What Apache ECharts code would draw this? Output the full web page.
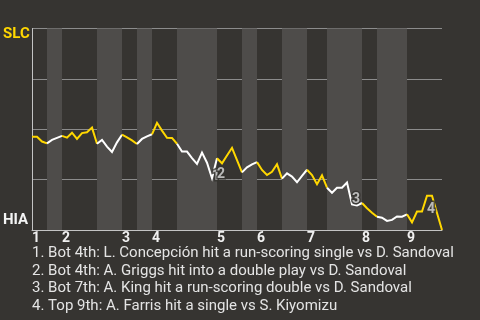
<!DOCTYPE html>
<html>
<head>
<meta charset="utf-8">
<script src="https://cdn.jsdelivr.net/npm/echarts@6/dist/echarts.min.js"></script>
<style>html,body{margin:0;padding:0;background:#363431;}#c{width:480px;height:320px;}</style>
</head>
<body>
<div id="c"></div>
<script>
// SLC win probability after each event (0 = HIA wins, 1 = SLC wins)
const winProb = [
  0.463, 0.463, 0.439, 0.430, 0.447, 0.457, 0.467, 0.458, 0.483, 0.452,
  0.481, 0.485, 0.508, 0.428, 0.447, 0.414, 0.387, 0.435, 0.473, 0.460,
  0.445, 0.427, 0.452, 0.465, 0.475, 0.532, 0.493, 0.458, 0.457, 0.428,
  0.389, 0.389, 0.357, 0.328, 0.384, 0.334, 0.257, 0.356, 0.331, 0.370,
  0.408, 0.347, 0.286, 0.311, 0.326, 0.337, 0.298, 0.273, 0.289, 0.326,
  0.255, 0.281, 0.265, 0.237, 0.269, 0.299, 0.273, 0.227, 0.271, 0.210,
  0.185, 0.210, 0.210, 0.236, 0.127, 0.122, 0.134, 0.108, 0.086, 0.066,
  0.061, 0.045, 0.050, 0.067, 0.066, 0.078, 0.038, 0.092, 0.092, 0.170,
  0.170, 0.084, 0.000
];
// event index where each half-inning starts (top 1, bot 1, top 2, ...), plus the final index
const halfInningStarts = [0, 3, 6, 13, 18, 21, 24, 29, 37, 42, 45, 50, 55, 59, 66, 69, 75, 82];
const inningStarts = [0, 6, 18, 24, 37, 45, 55, 66, 75];
const inningLabels = ['1', '2', '3', '4', '5', '6', '7', '8', '9'];
const teamTop = 'SLC';
const teamBottom = 'HIA';
// key events: marker number, event index (end of the play), description
const keyNums = ['1', '2', '3', '4'];
const keyIdx = [36, 37, 64, 79];
const keyTexts = [
  'Bot 4th: L. Concepción hit a run-scoring single vs D. Sandoval',
  'Bot 4th: A. Griggs hit into a double play vs D. Sandoval',
  'Bot 7th: A. King hit a run-scoring double vs D. Sandoval',
  'Top 9th: A. Farris hit a single vs S. Kiyomizu'
];

const BG = '#363431';
const BAND = '#4e4c4a';
const YELLOW = '#ffd700';
const WHITE = '#ffffff';

const lastIdx = winProb.length - 1;
const series = [];
// background bands for bottom halves
const bands = [];
for (let h = 1; h < halfInningStarts.length - 1; h += 2) {
  bands.push([{ xAxis: halfInningStarts[h] }, { xAxis: halfInningStarts[h + 1] }]);
}
series.push({
  type: 'line', data: [], z: -1, silent: true,
  markArea: { silent: true, itemStyle: { color: BAND }, data: bands }
});
// one line per half inning
for (let h = 0; h < halfInningStarts.length - 1; h++) {
  const s = halfInningStarts[h], e = halfInningStarts[h + 1];
  const d = [];
  for (let i = s; i <= e; i++) d.push([i, winProb[i]]);
  series.push({
    type: 'line', data: d, showSymbol: false, symbol: 'none', z: 3,
    lineStyle: { color: h % 2 === 0 ? YELLOW : WHITE, width: 2, join: 'miter' },
    itemStyle: { color: h % 2 === 0 ? YELLOW : WHITE }
  });
}
// key-event markers at the middle of each play segment
series.push({
  type: 'scatter', z: 5, symbolSize: 1, itemStyle: { color: 'rgba(0,0,0,0)' },
  data: keyIdx.map((i, k) => ({ name: keyNums[k], value: [i - 0.5, (winProb[i - 1] + winProb[i]) / 2] })),
  label: {
    show: true, position: 'right', distance: 2, offset: [0, 6],
    formatter: p => p.name, color: '#dcdcdc', fontSize: 14, fontWeight: 'bold',
    textBorderColor: BG, textBorderWidth: 3
  }
});

const chart = echarts.init(document.getElementById('c'), null, { renderer: 'canvas' });
chart.setOption({
  backgroundColor: BG,
  animation: false,
  textStyle: { fontFamily: 'Roboto' },
  title: {
    left: 32, top: 244.5, padding: 0,
    text: keyTexts.map((t, k) => keyNums[k] + '. ' + t).join('\n'),
    textStyle: { color: '#e4e4e4', fontSize: 15, fontWeight: 'normal', lineHeight: 17.6, fontFamily: 'Roboto' }
  },
  grid: { left: 32, right: 38, top: 28.5, bottom: 90 },
  xAxis: {
    type: 'value', min: 0, max: lastIdx, interval: 1,
    axisLine: { show: true, lineStyle: { color: '#c4c4c4', width: 1 } },
    axisTick: { show: false },
    splitLine: { show: false },
    axisLabel: {
      margin: 1, align: 'left', color: '#f0f0f0', fontSize: 14, fontWeight: 'bold',
      formatter: v => { const k = inningStarts.indexOf(v); return k >= 0 ? inningLabels[k] : ''; }
    }
  },
  yAxis: {
    type: 'value', min: 0, max: 1, interval: 0.25,
    axisLine: { show: true, lineStyle: { color: '#c4c4c4', width: 1 } },
    axisTick: { show: false },
    splitLine: { show: true, lineStyle: { color: '#8c8c8c', width: 1 } },
    axisLabel: {
      margin: 29, align: 'left',
      formatter: v => v === 1 ? '{s|' + teamTop + '}' : (v === 0 ? '{h|' + teamBottom + '}' : ''),
      rich: {
        s: { color: YELLOW, fontSize: 15, fontWeight: 'bold', padding: [12, 0, 0, 0] },
        h: { color: '#f4f4f4', fontSize: 15, fontWeight: 'bold', padding: [0, 0, 19, 0] }
      }
    }
  },
  series: series
});
</script>
</body>
</html>
